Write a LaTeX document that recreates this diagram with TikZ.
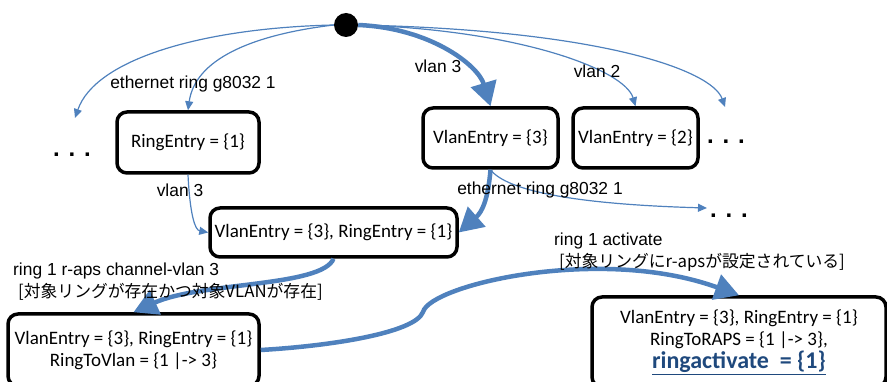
\documentclass[tikz,border=0pt]{standalone}
\usepackage{fontspec}
\usepackage{xcolor}
\usepackage{tikz}
\setmainfont{Liberation Sans}
\newfontfamily\calibrifont{Carlito}
\newfontfamily\jpfont{Noto Sans CJK JP}
\usetikzlibrary{arrows.meta}

\definecolor{linkblue}{RGB}{79,129,189}
\definecolor{deepblue}{RGB}{31,73,125}

\tikzset{
  entry/.style={draw=black, line width=3.5pt, rounded corners=10pt, align=center, inner sep=2pt,
    font=\calibrifont\fontsize{19}{22}\selectfont},
  thinlink/.style={draw=linkblue, line width=1.2pt, -{Triangle[length=9pt,width=8pt]}},
  thicklink/.style={draw=linkblue, line width=4.5pt, -{Triangle[length=24pt,width=26pt]}},
  edgetext/.style={inner sep=0pt, font=\fontsize{17.4}{20}\selectfont},
  jptext/.style={inner sep=0pt, font=\jpfont\fontsize{16.8}{20}\selectfont},
  moredots/.style={inner sep=0pt, font=\bfseries\fontsize{24}{24}\selectfont}
}

\begin{document}
\begin{tikzpicture}[x=1pt, y=-1pt]
  \useasboundingbox (0,0) rectangle (887,382);

  %start point
  \node[circle, fill=black, minimum size=24pt, inner sep=0pt] (start) at (346,25) {};

  %entries
  \node[entry, minimum width=142pt, minimum height=61pt] (ring) at (188,142.5) {RingEntry = \{1\}};
  \node[entry, minimum width=135pt, minimum height=60pt] (vlanthree) at (490.5,138) {VlanEntry = \{3\}};
  \node[entry, minimum width=125pt, minimum height=60pt] (vlantwo) at (635.5,138) {VlanEntry = \{2\}};
  \node[entry, minimum width=247pt, minimum height=49pt] (both) at (333.5,232.5) {VlanEntry = \{3\}, RingEntry = \{1\}};
  \node[entry, minimum width=251pt, minimum height=72pt] (ringtovlan) at (133.5,350)
    {VlanEntry = \{3\}, RingEntry = \{1\}\\ RingToVlan = \{1 |-> 3\}};
  \node[entry, minimum width=294pt, minimum height=90pt] (activate) at (739,342)
    {VlanEntry = \{3\}, RingEntry = \{1\}\\ RingToRAPS = \{1 |-> 3\},\\[1pt]
     {\bfseries\fontsize{24}{26}\selectfont\color{deepblue}\underline{ringactivate \ = \{1\}}}};

  %the rest
  \node[moredots] (dotsleft) at (72,155) {. . .};
  \node[moredots] (dotsright) at (726,142) {. . .};
  \node[moredots] (dotsbelow) at (729,216) {. . .};
  \coordinate (leftend) at (75,118);
  \coordinate (rightend) at (725,107);
  \coordinate (belowend) at (707,208);
  \coordinate (bend) at (423,312);

  %from start
  \draw[thinlink] (start.west) .. controls (200,28) and (95,60) .. (leftend);
  \draw[thinlink] (start.west) .. controls (250,35) and (195,60) .. (ring.north);
  \draw[thicklink] (start.east) .. controls (430,28) and (478,65) .. (vlanthree.north);
  \draw[thinlink] (start.east) .. controls (520,30) and (625,70) .. (vlantwo.north);
  \draw[thinlink] (start.east) .. controls (600,30) and (712,70) .. (rightend);
  \node[edgetext] (ethtop) at (193,84) {ethernet ring g8032 1};
  \node[edgetext] (vlanthreetop) at (438,66) {vlan 3};
  \node[edgetext] (vlantwotop) at (597,71) {vlan 2};

  %to both
  \draw[thinlink] (ring.south) .. controls (190,215) and (195,230) .. (both.west);
  \draw[thicklink] (vlanthree.south) .. controls (488,200) and (482,212) .. (both.east);
  \draw[thinlink] (vlanthree.south) .. controls (510,195) and (600,205) .. (belowend);
  \node[edgetext] (vlanthreemid) at (180,190) {vlan 3};
  \node[edgetext] (ethmid) at (540,190) {ethernet ring g8032 1};

  %r-aps
  \draw[thicklink] (both.south) .. controls (322,287) and (200,282) .. (ringtovlan.north);
  \node[edgetext, anchor=west] (rapsline) at (13,271) {ring 1 r-aps channel-vlan 3};
  \node[jptext, anchor=west] (rapscond) at (18,292) {[対象リングが存在かつ対象VLANが存在]};

  %activate
  \draw[thicklink] (ringtovlan.east) .. controls (330,346) and (415,333) .. (bend)
    .. controls (430,285) and (600,245) .. (activate.north);
  \node[edgetext, anchor=west] (actline) at (554,241) {ring 1 activate};
  \node[jptext, anchor=west] (actcond) at (559,262) {[対象リングにr-apsが設定されている]};
\end{tikzpicture}
\end{document}
